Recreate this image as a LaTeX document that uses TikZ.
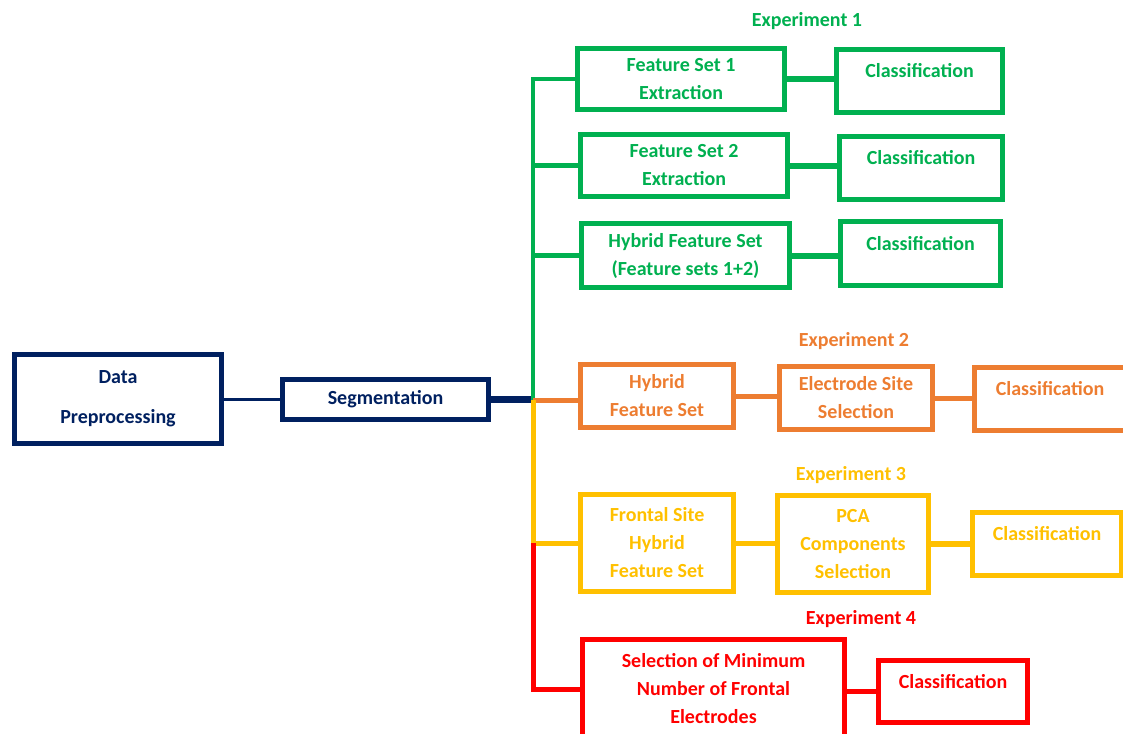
\documentclass[tikz,border=0pt]{standalone}
\usepackage{fontspec}
\setmainfont{Carlito}
\usetikzlibrary{positioning}
\definecolor{navy}{HTML}{002060}
\definecolor{exgreen}{HTML}{00B050}
\definecolor{exorange}{HTML}{ED7D31}
\definecolor{exgold}{HTML}{FFC000}
\definecolor{exred}{HTML}{FF0000}
\tikzset{%
    box/.style={draw, line width=5pt, inner sep=0pt, align=center,
        font=\bfseries\fontsize{20}{28}\selectfont},
    txt/.style={inner sep=0pt, font=\bfseries\fontsize{20}{28}\selectfont},
    wire/.style={line width=5pt}
}

\begin{document}
\begin{tikzpicture}[x=1pt,y=-1pt]
    \useasboundingbox (0,0) rectangle (1123,733);
    \clip (0,0) rectangle (1123,733);

    % input chain
    \node[box, navy, minimum width=207, minimum height=89] (dp) at (118,399) {Data\\[12pt]Preprocessing};
    \node[box, navy, minimum width=206, minimum height=40] (seg) at (385.5,399) {Segmentation};
    \coordinate (hub) at (533,400);
    \coordinate (split) at (533,543);

    % experiment 1
    \node[txt, exgreen] (ex1) at (807,21) {Experiment 1};
    \node[box, exgreen, minimum width=207, minimum height=61] (fs1) at (681,79) {Feature Set 1\\Extraction};
    \node[box, exgreen, minimum width=166, minimum height=63] (c1) at (919.5,81) {};
    \node[txt, exgreen] (c1t) at ([yshift=10pt]c1.center) {Classification};
    \node[box, exgreen, minimum width=207, minimum height=62] (fs2) at (684,165.5) {Feature Set 2\\Extraction};
    \node[box, exgreen, minimum width=163, minimum height=63] (c2) at (921,168) {};
    \node[txt, exgreen] (c2t) at ([yshift=10pt]c2.center) {Classification};
    \node[box, exgreen, minimum width=208, minimum height=64] (hyb) at (685.5,255.5) {Hybrid Feature Set\\(Feature sets 1+2)};
    \node[box, exgreen, minimum width=160, minimum height=64] (c3) at (920.5,253.5) {};
    \node[txt, exgreen] (c3t) at ([yshift=10pt]c3.center) {Classification};

    % experiment 2
    \node[txt, exorange] (ex2) at (854,341) {Experiment 2};
    \node[box, exorange, minimum width=153, minimum height=63] (hfs) at (657,396) {Hybrid\\Feature Set};
    \node[box, exorange, minimum width=153, minimum height=63] (ele) at (856,398) {Electrode Site\\Selection};
    \node[box, exorange, minimum width=151, minimum height=63] (c4) at (1050,399) {};
    \node[txt, exorange] (c4t) at ([yshift=10pt]c4.center) {Classification};

    % experiment 3
    \node[txt, exgold] (ex3) at (851,475) {Experiment 3};
    \node[box, exgold, minimum width=153, minimum height=97] (fro) at (657,543) {Frontal Site\\Hybrid\\Feature Set};
    \node[box, exgold, minimum width=151, minimum height=97] (pca) at (853,544) {PCA\\Components\\Selection};
    \node[box, exgold, minimum width=149, minimum height=63] (c5) at (1047,544) {};
    \node[txt, exgold] (c5t) at ([yshift=10pt]c5.center) {Classification};

    % experiment 4
    \node[txt, exred] (ex4) at (861,619) {Experiment 4};
    \node[box, exred, minimum width=262, minimum height=99] (sel) at (713.5,689) {Selection of Minimum\\Number of Frontal\\Electrodes};
    \node[box, exred, minimum width=149, minimum height=62] (c6) at (953,691.5) {};
    \node[txt, exred] (c6t) at ([yshift=10pt]c6.center) {Classification};

    % connectors
    \draw[navy, line width=3pt] (dp.east) -- (seg.west);
    \draw[navy, line width=7pt] (seg.east) -- (seg.east -| hub);

    \draw[wire, exgreen, line width=4pt] (hub) |- (fs1.west);
    \draw[wire, exgreen] (hub |- fs2.west) -- (fs2.west);
    \draw[wire, exgreen] (hub |- hyb.west) -- (hyb.west);
    \draw[wire, exgreen, line width=6pt] (fs1.east) -- (fs1.east -| c1.west);
    \draw[wire, exgreen, line width=6pt] (fs2.east) -- (fs2.east -| c2.west);
    \draw[wire, exgreen, line width=6pt] (hyb.east) -- (hyb.east -| c3.west);

    \draw[wire, exorange] (hub) -- (hub -| hfs.west);
    \draw[wire, exorange] (hfs.east) -- (hfs.east -| ele.west);
    \draw[wire, exorange] (ele.east) -- (ele.east -| c4.west);

    \draw[wire, exgold] (hub) |- (fro.west);
    \draw[wire, exgold] (fro.east) -- (fro.east -| pca.west);
    \draw[wire, exgold, line width=6pt] (pca.east) -- (pca.east -| c5.west);

    \draw[wire, exred] (split) |- (sel.west);
    \draw[wire, exred] (sel.east |- c6.west) -- (c6.west);
\end{tikzpicture}
\end{document}
